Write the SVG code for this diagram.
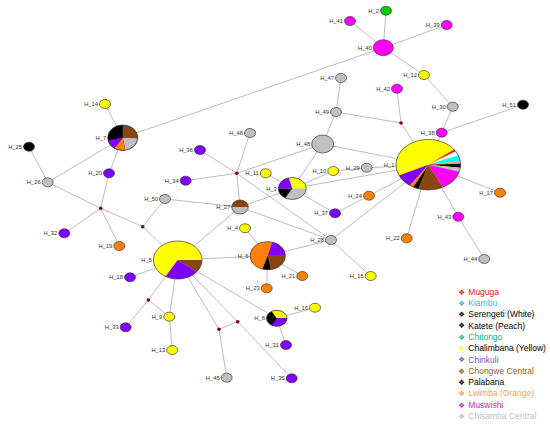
<svg xmlns="http://www.w3.org/2000/svg" width="550" height="425" viewBox="0 0 550 425">
<style>
.e{stroke:#b4b4b4;stroke-width:0.9;fill:none}
.n{stroke:#3a3a3a;stroke-width:0.7}
.o{fill:none;stroke:#3a3a3a;stroke-width:0.7}
.l{font-family:"Liberation Sans",Arial,sans-serif;font-size:5.8px;fill:#333;text-anchor:end}
.mv{fill:#8b0000}
.Y{fill:#ffff00}.P{fill:#8000ff}.M{fill:#ff00ff}.O{fill:#ff8000}.B{fill:#8b4510}.G{fill:#c0c0c0}.K{fill:#000}.GR{fill:#00cc00}
.lg{font-family:"Liberation Sans",Arial,sans-serif;font-size:8.5px}
.mk{font-family:"DejaVu Sans",sans-serif;font-size:7.5px;text-anchor:middle}
</style>
<rect width="550" height="425" fill="#fff"/>
<g id="connectors">
<line class="e" x1="105" y1="104" x2="122.7" y2="137.7"/>
<line class="e" x1="122.7" y1="137.7" x2="383.3" y2="47.7"/>
<line class="e" x1="122.7" y1="137.7" x2="109" y2="173.3"/>
<line class="e" x1="122.7" y1="137.7" x2="47.7" y2="182.3"/>
<line class="e" x1="29" y1="146.7" x2="47.7" y2="182.3"/>
<line class="e" x1="47.7" y1="182.3" x2="100.7" y2="208.3"/>
<line class="e" x1="109" y1="173.3" x2="100.7" y2="208.3"/>
<line class="e" x1="100.7" y1="208.3" x2="64.3" y2="233.3"/>
<line class="e" x1="100.7" y1="208.3" x2="119.3" y2="246"/>
<line class="e" x1="100.7" y1="208.3" x2="142.7" y2="226.7"/>
<line class="e" x1="142.7" y1="226.7" x2="165" y2="199"/>
<line class="e" x1="142.7" y1="226.7" x2="177.7" y2="260"/>
<line class="e" x1="165" y1="199" x2="240" y2="207"/>
<line class="e" x1="240" y1="207" x2="236.7" y2="173.3"/>
<line class="e" x1="236.7" y1="173.3" x2="250" y2="133"/>
<line class="e" x1="236.7" y1="173.3" x2="200" y2="150"/>
<line class="e" x1="236.7" y1="173.3" x2="185.7" y2="180.7"/>
<line class="e" x1="236.7" y1="173.3" x2="322.7" y2="144"/>
<line class="e" x1="236.7" y1="173.3" x2="331" y2="240"/>
<line class="e" x1="240" y1="207" x2="292.3" y2="188.5"/>
<line class="e" x1="240" y1="207" x2="177.7" y2="260"/>
<line class="e" x1="240" y1="207" x2="331" y2="240"/>
<line class="e" x1="177.7" y1="260" x2="267.7" y2="255.7"/>
<line class="e" x1="267.7" y1="255.7" x2="331" y2="240"/>
<line class="e" x1="331" y1="240" x2="428.3" y2="164.7"/>
<line class="e" x1="331" y1="240" x2="370.7" y2="276"/>
<line class="e" x1="267.7" y1="255.7" x2="245" y2="228.3"/>
<line class="e" x1="267.7" y1="255.7" x2="302.3" y2="276"/>
<line class="e" x1="267.7" y1="255.7" x2="266.7" y2="288.3"/>
<line class="e" x1="177.7" y1="260" x2="130" y2="277.3"/>
<line class="e" x1="177.7" y1="260" x2="148.3" y2="300"/>
<line class="e" x1="148.3" y1="300" x2="125.7" y2="327.3"/>
<line class="e" x1="148.3" y1="300" x2="169.3" y2="316.7"/>
<line class="e" x1="177.7" y1="260" x2="169.3" y2="316.7"/>
<line class="e" x1="169.3" y1="316.7" x2="172.3" y2="350"/>
<line class="e" x1="177.7" y1="260" x2="219" y2="329.3"/>
<line class="e" x1="219" y1="329.3" x2="226.7" y2="377.7"/>
<line class="e" x1="219" y1="329.3" x2="237.7" y2="321.7"/>
<line class="e" x1="237.7" y1="321.7" x2="177.7" y2="260"/>
<line class="e" x1="237.7" y1="321.7" x2="291.7" y2="378.3"/>
<line class="e" x1="177.7" y1="260" x2="276.7" y2="318.3"/>
<line class="e" x1="276.7" y1="318.3" x2="315" y2="307.7"/>
<line class="e" x1="276.7" y1="318.3" x2="286" y2="345"/>
<line class="e" x1="292.3" y1="188.5" x2="322.7" y2="144"/>
<line class="e" x1="292.3" y1="188.5" x2="333.3" y2="171"/>
<line class="e" x1="333.3" y1="171" x2="366.7" y2="167.7"/>
<line class="e" x1="366.7" y1="167.7" x2="428.3" y2="164.7"/>
<line class="e" x1="292.3" y1="188.5" x2="428.3" y2="164.7"/>
<line class="e" x1="322.7" y1="144" x2="428.3" y2="164.7"/>
<line class="e" x1="322.7" y1="144" x2="336" y2="112"/>
<line class="e" x1="336" y1="112" x2="341" y2="78"/>
<line class="e" x1="336" y1="112" x2="401" y2="123"/>
<line class="e" x1="401" y1="123" x2="397" y2="88.7"/>
<line class="e" x1="401" y1="123" x2="428.3" y2="164.7"/>
<line class="e" x1="428.3" y1="164.7" x2="441.7" y2="132.7"/>
<line class="e" x1="441.7" y1="132.7" x2="452.7" y2="106.7"/>
<line class="e" x1="441.7" y1="132.7" x2="523" y2="104.7"/>
<line class="e" x1="452.7" y1="106.7" x2="424" y2="75"/>
<line class="e" x1="424" y1="75" x2="383.3" y2="47.7"/>
<line class="e" x1="383.3" y1="47.7" x2="386" y2="10.7"/>
<line class="e" x1="383.3" y1="47.7" x2="350" y2="21"/>
<line class="e" x1="383.3" y1="47.7" x2="446.7" y2="25"/>
<line class="e" x1="428.3" y1="164.7" x2="369" y2="195.7"/>
<line class="e" x1="369" y1="195.7" x2="335" y2="213.3"/>
<line class="e" x1="292.3" y1="188.5" x2="335" y2="213.3"/>
<line class="e" x1="428.3" y1="164.7" x2="406.7" y2="238.3"/>
<line class="e" x1="428.3" y1="164.7" x2="458.3" y2="216.7"/>
<line class="e" x1="458.3" y1="216.7" x2="484.3" y2="259"/>
<line class="e" x1="428.3" y1="164.7" x2="500" y2="192.7"/>
<line class="e" x1="265.7" y1="173.3" x2="292.3" y2="188.5"/>
</g>
<g id="median-vectors">
<circle class="mv" cx="100.7" cy="208.3" r="1.8"/>
<circle class="mv" cx="142.7" cy="226.7" r="1.8"/>
<circle class="mv" cx="236.7" cy="173.3" r="1.8"/>
<circle class="mv" cx="148.3" cy="300" r="1.8"/>
<circle class="mv" cx="219" cy="329.3" r="1.8"/>
<circle class="mv" cx="237.7" cy="321.7" r="1.8"/>
<circle class="mv" cx="401" cy="123" r="1.8"/>
</g>
<g id="nodes">
<g id="H_2"><ellipse class="n GR" cx="386" cy="10.7" rx="5.5" ry="4.5"/><text class="l" x="379" y="12.7">H_2</text></g>
<g id="H_41"><ellipse class="n M" cx="350" cy="21" rx="5.5" ry="4.5"/><text class="l" x="343" y="23">H_41</text></g>
<g id="H_39"><ellipse class="n M" cx="446.7" cy="25" rx="5.5" ry="4.5"/><text class="l" x="439.7" y="27">H_39</text></g>
<g id="H_12"><ellipse class="n Y" cx="424" cy="75" rx="5.5" ry="4.5"/><text class="l" x="417" y="77">H_12</text></g>
<g id="H_47"><ellipse class="n G" cx="341" cy="78" rx="5.5" ry="4.5"/><text class="l" x="334" y="80">H_47</text></g>
<g id="H_42"><ellipse class="n M" cx="397" cy="88.7" rx="5.5" ry="4.5"/><text class="l" x="390" y="90.7">H_42</text></g>
<g id="H_49"><ellipse class="n G" cx="336" cy="112" rx="5.5" ry="4.5"/><text class="l" x="329" y="114">H_49</text></g>
<g id="H_30"><ellipse class="n G" cx="452.7" cy="106.7" rx="5.5" ry="4.5"/><text class="l" x="445.7" y="108.7">H_30</text></g>
<g id="H_51"><ellipse class="n K" cx="523" cy="104.7" rx="5.5" ry="4.5"/><text class="l" x="516" y="106.7">H_51</text></g>
<g id="H_38"><ellipse class="n M" cx="441.7" cy="132.7" rx="5.5" ry="4.5"/><text class="l" x="434.7" y="134.7">H_38</text></g>
<g id="H_14"><ellipse class="n Y" cx="105" cy="104" rx="5.5" ry="4.5"/><text class="l" x="98" y="106">H_14</text></g>
<g id="H_46"><ellipse class="n G" cx="250" cy="133" rx="5.5" ry="4.5"/><text class="l" x="243" y="135">H_46</text></g>
<g id="H_25"><ellipse class="n K" cx="29" cy="146.7" rx="5.5" ry="4.5"/><text class="l" x="22" y="148.7">H_25</text></g>
<g id="H_26"><ellipse class="n G" cx="47.7" cy="182.3" rx="5.5" ry="4.5"/><text class="l" x="40.7" y="184.3">H_26</text></g>
<g id="H_20"><ellipse class="n P" cx="109" cy="173.3" rx="5.5" ry="4.5"/><text class="l" x="102" y="175.3">H_20</text></g>
<g id="H_36"><ellipse class="n P" cx="200" cy="150" rx="5.5" ry="4.5"/><text class="l" x="193" y="152">H_36</text></g>
<g id="H_34"><ellipse class="n P" cx="185.7" cy="180.7" rx="5.5" ry="4.5"/><text class="l" x="178.7" y="182.7">H_34</text></g>
<g id="H_11"><ellipse class="n Y" cx="265.7" cy="173.3" rx="5.5" ry="4.5"/><text class="l" x="258.7" y="175.3">H_11</text></g>
<g id="H_50"><ellipse class="n G" cx="165" cy="199" rx="5.5" ry="4.5"/><text class="l" x="158" y="201">H_50</text></g>
<g id="H_32"><ellipse class="n P" cx="64.3" cy="233.3" rx="5.5" ry="4.5"/><text class="l" x="57.3" y="235.3">H_32</text></g>
<g id="H_19"><ellipse class="n O" cx="119.3" cy="246" rx="5.5" ry="4.5"/><text class="l" x="112.3" y="248">H_19</text></g>
<g id="H_4"><ellipse class="n Y" cx="245" cy="228.3" rx="5.5" ry="4.5"/><text class="l" x="238" y="230.3">H_4</text></g>
<g id="H_18"><ellipse class="n P" cx="130" cy="277.3" rx="5.5" ry="4.5"/><text class="l" x="123" y="279.3">H_18</text></g>
<g id="H_29"><ellipse class="n G" cx="366.7" cy="167.7" rx="5.5" ry="4.5"/><text class="l" x="359.7" y="169.7">H_29</text></g>
<g id="H_10"><ellipse class="n Y" cx="333.3" cy="171" rx="5.5" ry="4.5"/><text class="l" x="326.3" y="173">H_10</text></g>
<g id="H_24"><ellipse class="n O" cx="369" cy="195.7" rx="5.5" ry="4.5"/><text class="l" x="362" y="197.7">H_24</text></g>
<g id="H_17"><ellipse class="n O" cx="500" cy="192.7" rx="5.5" ry="4.5"/><text class="l" x="493" y="194.7">H_17</text></g>
<g id="H_37"><ellipse class="n P" cx="335" cy="213.3" rx="5.5" ry="4.5"/><text class="l" x="328" y="215.3">H_37</text></g>
<g id="H_43"><ellipse class="n M" cx="458.3" cy="216.7" rx="5.5" ry="4.5"/><text class="l" x="451.3" y="218.7">H_43</text></g>
<g id="H_28"><ellipse class="n G" cx="331" cy="240" rx="5.5" ry="4.5"/><text class="l" x="324" y="242">H_28</text></g>
<g id="H_22"><ellipse class="n O" cx="406.7" cy="238.3" rx="5.5" ry="4.5"/><text class="l" x="399.7" y="240.3">H_22</text></g>
<g id="H_44"><ellipse class="n G" cx="484.3" cy="259" rx="5.5" ry="4.5"/><text class="l" x="477.3" y="261">H_44</text></g>
<g id="H_21"><ellipse class="n O" cx="302.3" cy="276" rx="5.5" ry="4.5"/><text class="l" x="295.3" y="278">H_21</text></g>
<g id="H_15"><ellipse class="n Y" cx="370.7" cy="276" rx="5.5" ry="4.5"/><text class="l" x="363.7" y="278">H_15</text></g>
<g id="H_9"><ellipse class="n Y" cx="169.3" cy="316.7" rx="5.5" ry="4.5"/><text class="l" x="162.3" y="318.7">H_9</text></g>
<g id="H_33"><ellipse class="n P" cx="125.7" cy="327.3" rx="5.5" ry="4.5"/><text class="l" x="118.7" y="329.3">H_33</text></g>
<g id="H_13"><ellipse class="n Y" cx="172.3" cy="350" rx="5.5" ry="4.5"/><text class="l" x="165.3" y="352">H_13</text></g>
<g id="H_45"><ellipse class="n G" cx="226.7" cy="377.7" rx="5.5" ry="4.5"/><text class="l" x="219.7" y="379.7">H_45</text></g>
<g id="H_23"><ellipse class="n O" cx="266.7" cy="288.3" rx="5.5" ry="4.5"/><text class="l" x="259.7" y="290.3">H_23</text></g>
<g id="H_16"><ellipse class="n Y" cx="315" cy="307.7" rx="5.5" ry="4.5"/><text class="l" x="308" y="309.7">H_16</text></g>
<g id="H_31"><ellipse class="n P" cx="286" cy="345" rx="5.5" ry="4.5"/><text class="l" x="279" y="347">H_31</text></g>
<g id="H_35"><ellipse class="n P" cx="291.7" cy="378.3" rx="5.5" ry="4.5"/><text class="l" x="284.7" y="380.3">H_35</text></g>
<g id="H_40"><ellipse class="n M" cx="383.3" cy="47.7" rx="10" ry="8"/><text class="l" x="371.8" y="49.7">H_40</text></g>
<g id="H_48"><ellipse class="n G" cx="322.7" cy="144" rx="11" ry="9"/><text class="l" x="310.2" y="146">H_48</text></g>
<g id="H_27">
<g transform="translate(240,207) scale(8.3,7)"><ellipse class="G" rx="1" ry="1"/><path class="B" d="M-1 0A1 1 0 0 1 1 0Z"/></g>
<ellipse class="o" cx="240" cy="207" rx="8.3" ry="7"/><text class="l" x="230.2" y="209">H_27</text></g>
<g id="H_3">
<g transform="translate(292.3,188.5) scale(14,11)"><ellipse class="G" rx="1" ry="1"/>
<path class="Y" d="M0 0L-0.259 -0.966A1 1 0 0 1 1 0Z"/>
<path class="K" d="M0 0L-0.5 0.866A1 1 0 0 1 -1 0Z"/>
<path class="P" d="M0 0L-1 0A1 1 0 0 1 -0.259 -0.966Z"/></g>
<ellipse class="o" cx="292.3" cy="188.5" rx="14" ry="11"/><text class="l" x="276.8" y="190.5">H_3</text></g>
<g id="H_7">
<g transform="translate(122.7,137.7) scale(15,12.7)"><ellipse class="K" rx="1" ry="1"/>
<path class="B" d="M0 0L0 -1A1 1 0 0 1 0.999 0.052Z"/>
<path class="G" d="M0 0L0.999 0.052A1 1 0 0 1 0.174 0.985Z"/>
<path class="O" d="M0 0L0.174 0.985A1 1 0 0 1 -0.559 0.829Z"/>
<path class="P" d="M0 0L-0.559 0.829A1 1 0 0 1 -0.982 0.191Z"/></g>
<ellipse class="o" cx="122.7" cy="137.7" rx="15" ry="12.7"/><text class="l" x="106.2" y="139.7">H_7</text></g>
<g id="H_5">
<g transform="translate(177.7,260) scale(24.3,19)"><ellipse class="Y" rx="1" ry="1"/>
<path class="B" d="M0 0L1 0A1 1 0 0 1 0.788 0.616Z"/>
<path class="P" d="M0 0L0.788 0.616A1 1 0 0 1 -0.5 0.866Z"/></g>
<ellipse class="o" cx="177.7" cy="260" rx="24.3" ry="19"/><text class="l" x="151.9" y="262">H_5</text></g>
<g id="H_6">
<g transform="translate(267.7,255.7) scale(17.7,14)"><ellipse class="O" rx="1" ry="1"/>
<path class="P" d="M0 0L0.259 -0.966A1 1 0 0 1 1 0Z"/>
<path class="B" d="M0 0L1 0A1 1 0 0 1 0.174 0.985Z"/>
<path class="K" d="M0 0L0.174 0.985A1 1 0 0 1 -0.292 0.956Z"/></g>
<ellipse class="o" cx="267.7" cy="255.7" rx="17.7" ry="14"/><text class="l" x="248.5" y="257.7">H_6</text></g>
<g id="H_8">
<g transform="translate(276.7,318.3) scale(10.3,8)"><ellipse class="K" rx="1" ry="1"/>
<path class="Y" d="M0 0L-0.5 -0.866A1 1 0 0 1 1 0Z"/>
<path class="P" d="M0 0L1 0A1 1 0 0 1 -0.5 0.866Z"/></g>
<ellipse class="o" cx="276.7" cy="318.3" rx="10.3" ry="8"/><text class="l" x="264.9" y="320.3">H_8</text></g>
<g id="H_1">
<g transform="translate(428.3,164.7) scale(32.3,25.3)"><ellipse class="Y" rx="1" ry="1"/>
<path fill="#ff0000" d="M0 0L0.799 -0.602A1 1 0 0 1 0.848 -0.530Z"/>
<path fill="#ffffff" d="M0 0L0.848 -0.530A1 1 0 0 1 0.927 -0.375Z"/>
<path fill="#00ffff" d="M0 0L0.927 -0.375A1 1 0 0 1 0.990 -0.139Z"/>
<path fill="#ff9a8c" d="M0 0L0.990 -0.139A1 1 0 0 1 0.999 -0.035Z"/>
<path class="K" d="M0 0L0.999 -0.035A1 1 0 0 1 0.993 0.122Z"/>
<path class="G" d="M0 0L0.993 0.122A1 1 0 0 1 0.961 0.276Z"/>
<path class="M" d="M0 0L0.961 0.276A1 1 0 0 1 0.454 0.891Z"/>
<path class="B" d="M0 0L0.454 0.891A1 1 0 0 1 -0.309 0.951Z"/>
<path class="K" d="M0 0L-0.309 0.951A1 1 0 0 1 -0.469 0.883Z"/>
<path class="O" d="M0 0L-0.469 0.883A1 1 0 0 1 -0.574 0.819Z"/>
<path class="P" d="M0 0L-0.574 0.819A1 1 0 0 1 -0.906 0.423Z"/></g>
<ellipse class="o" cx="428.3" cy="164.7" rx="32.3" ry="25.3"/><text class="l" x="394.5" y="166.7">H_1</text></g>
</g>
<g id="legend" class="lg">
<text class="mk" x="461.7" y="294.5" fill="#e02020">❖</text><text x="468.3" y="294.7" fill="#e02020">Muguga</text>
<text class="mk" x="461.7" y="305.8" fill="#40b0e0">❖</text><text x="468.3" y="306" fill="#40b0e0">Kiambu</text>
<text class="mk" x="461.7" y="317.1" fill="#000">❖</text><text x="468.3" y="317.3" fill="#000">Serengeti (White)</text>
<text class="mk" x="461.7" y="328.4" fill="#000">❖</text><text x="468.3" y="328.6" fill="#000">Katete (Peach)</text>
<text class="mk" x="461.7" y="339.7" fill="#20b070">❖</text><text x="468.3" y="339.9" fill="#20b070">Chitongo</text>
<text class="mk" x="461.7" y="351" fill="#ffff00">❖</text><text x="468.3" y="351.2" fill="#000">Chalimbana (Yellow)</text>
<text class="mk" x="461.7" y="362.3" fill="#8050c0">❖</text><text x="468.3" y="362.5" fill="#8050c0">Chinkuli</text>
<text class="mk" x="461.7" y="373.6" fill="#a06020">❖</text><text x="468.3" y="373.8" fill="#a06020">Chongwe Central</text>
<text class="mk" x="461.7" y="384.9" fill="#000">❖</text><text x="468.3" y="385.1" fill="#000">Palabana</text>
<text class="mk" x="461.7" y="396.2" fill="#f0a060">❖</text><text x="468.3" y="396.4" fill="#f0a060">Lwimba (Orange)</text>
<text class="mk" x="461.7" y="407.5" fill="#d020d0">❖</text><text x="468.3" y="407.7" fill="#d020d0">Muswishi</text>
<text class="mk" x="461.7" y="418.8" fill="#c0c0c0">❖</text><text x="468.3" y="419" fill="#c0c0c0">Chisamba Central</text>
</g>
</svg>
